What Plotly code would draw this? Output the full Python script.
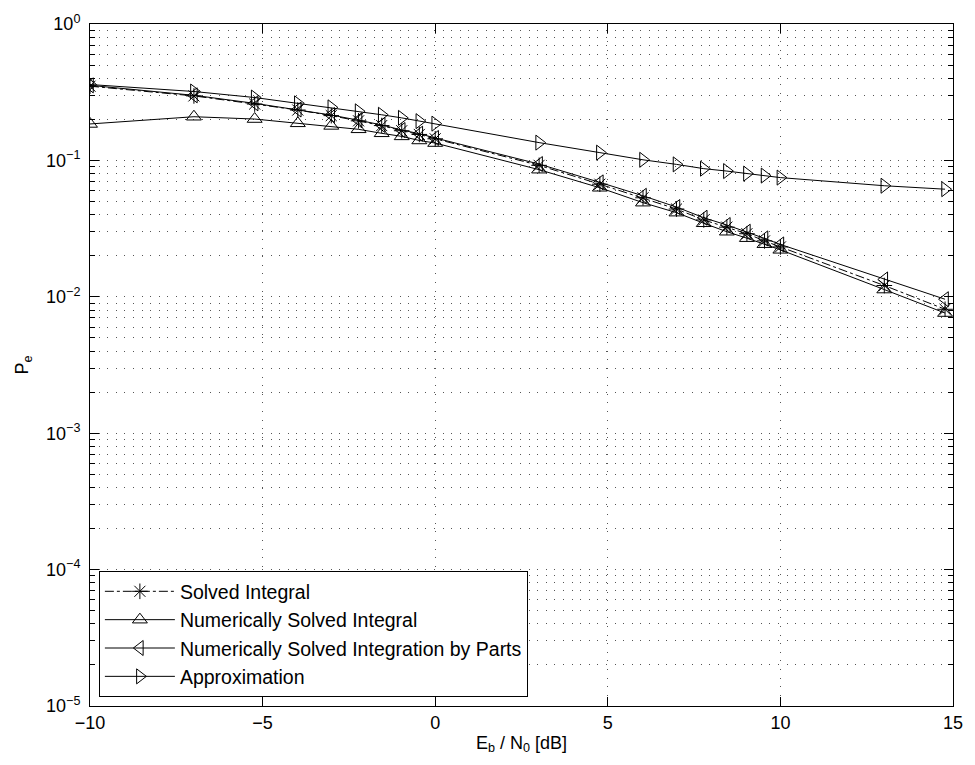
import plotly.graph_objects as go

# Eb/N0 in dB
ebn0_db = [-10, -6.99, -5.23, -3.98, -3.01, -2.22, -1.55, -0.97, -0.46, 0,
           3.01, 4.77, 6.02, 6.99, 7.78, 8.45, 9.03, 9.54, 10, 13.01, 14.77]

solved_integral = [0.35, 0.297, 0.259, 0.234, 0.213, 0.195, 0.180, 0.165, 0.155, 0.144,
                   0.092, 0.0669, 0.0532, 0.044, 0.0366, 0.0324, 0.029, 0.0257, 0.0232, 0.0121, 0.0081]
numerical_integral = [0.185, 0.209, 0.201, 0.187, 0.179, 0.169, 0.158, 0.150, 0.140, 0.134,
                      0.0855, 0.063, 0.049, 0.0414, 0.0346, 0.030, 0.0269, 0.0243, 0.0221, 0.0113, 0.0076]
by_parts = [0.355, 0.300, 0.262, 0.236, 0.215, 0.197, 0.182, 0.167, 0.157, 0.146,
            0.094, 0.069, 0.055, 0.0455, 0.038, 0.0336, 0.030, 0.0268, 0.0242, 0.0134, 0.0096]
approximation = [0.36, 0.32, 0.289, 0.262, 0.245, 0.229, 0.216, 0.205, 0.194, 0.186,
                 0.135, 0.114, 0.101, 0.0935, 0.087, 0.0835, 0.080, 0.0774, 0.0748, 0.0652, 0.0615]

series_names = ["Solved Integral", "Numerically Solved Integral",
                "Numerically Solved Integration by Parts", "Approximation"]

x_ticks = [-10, -5, 0, 5, 10, 15]
x_ticklabels = ["\u221210", "\u22125", "0", "5", "10", "15"]
y_exponents = [0, -1, -2, -3, -4, -5]

FONT = "Liberation Sans, Arial, Helvetica, sans-serif"

fig = go.Figure()
styles = [
    dict(dash="dashdot", symbol="asterisk-open"),
    dict(dash="solid", symbol="triangle-up-open"),
    dict(dash="solid", symbol="triangle-left-open"),
    dict(dash="solid", symbol="triangle-right-open"),
]
for name, ys, st in zip(series_names,
                        [solved_integral, numerical_integral, by_parts, approximation],
                        styles):
    fig.add_trace(go.Scatter(
        x=ebn0_db, y=ys, name=name, mode="lines+markers",
        line=dict(color="black", width=1, dash=st["dash"]),
        marker=dict(symbol=st["symbol"], size=13, color="black",
                    line=dict(color="black", width=1)),
    ))

minor_y = [k * 10.0 ** e for e in range(-5, 0) for k in range(2, 10)]

grid_kw = dict(gridcolor="#555555", gridwidth=1, griddash="1px,7.6px")

fig.update_layout(
    width=975, height=765,
    margin=dict(l=90, r=14, t=19, b=59),
    paper_bgcolor="white", plot_bgcolor="white",
    font=dict(family=FONT, size=18, color="black"),
    showlegend=True,
    legend=dict(x=0.0103, y=0.013, xanchor="left", yanchor="bottom",
                bgcolor="white", bordercolor="black", borderwidth=1,
                font=dict(family=FONT, size=19.5, color="black"),
                itemwidth=70, tracegroupgap=0),
    xaxis=dict(
        range=[-10, 15], tickvals=x_ticks, ticktext=x_ticklabels,
        showline=True, linecolor="black", linewidth=1, mirror="ticks",
        ticks="inside", ticklen=9, tickcolor="black",
        showgrid=True, zeroline=False, **grid_kw,
        title=dict(text="E<sub>b</sub> / N<sub>0</sub> [dB]", standoff=4,
                   font=dict(family=FONT, size=18)),
        tickfont=dict(family=FONT, size=18),
    ),
    yaxis=dict(
        type="log", range=[-5, 0],
        tickvals=[10.0 ** e for e in y_exponents],
        ticktext=["10<sup>%d</sup>" % e if e >= 0 else "10<sup>\u2212%d</sup>" % (-e)
                  for e in y_exponents],
        showline=True, linecolor="black", linewidth=1, mirror="ticks",
        ticks="inside", ticklen=9, tickcolor="black", ticklabelstandoff=5,
        showgrid=True, zeroline=False, **grid_kw,
        minor=dict(tickvals=minor_y, ticks="inside", ticklen=5, tickcolor="black",
                   showgrid=True, **grid_kw),
        title=dict(text="P<sub>e</sub>", standoff=12, font=dict(family=FONT, size=18)),
        tickfont=dict(family=FONT, size=18),
    ),
)

fig.write_html("out.html",
               config={"displayModeBar": False},
               post_script="document.body.style.margin='0';document.body.style.overflow='hidden';")
